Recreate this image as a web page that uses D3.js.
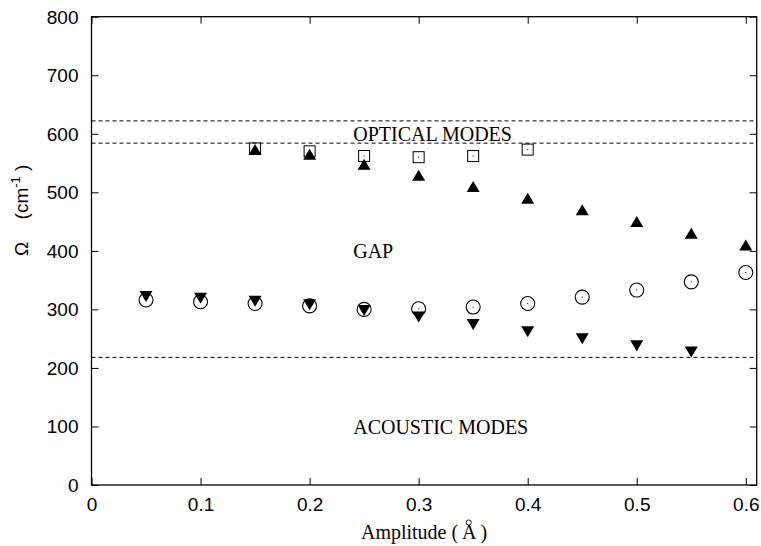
<!DOCTYPE html>
<html>
<head>
<meta charset="utf-8">
<script src="https://cdn.jsdelivr.net/npm/d3@7"></script>
<style>
  html, body { margin: 0; padding: 0; background: #fff; }
  svg { display: block; }
</style>
</head>
<body>
<svg id="chart" width="761" height="546"></svg>
<script>
// Phonon frequencies versus displacement amplitude
const amplitudes = [0.05, 0.1, 0.15, 0.2, 0.25, 0.3, 0.35, 0.4, 0.45, 0.5, 0.55, 0.6];

// upper branch (filled up-triangles), from 0.15 onward
const upperAmp = [0.15, 0.2, 0.25, 0.3, 0.35, 0.4, 0.45, 0.5, 0.55, 0.6];
const upperFreq = [573, 565, 548, 529, 510, 490, 470, 450, 430, 410];

// optical-like mode (open squares)
const squareAmp = [0.15, 0.2, 0.25, 0.3, 0.35, 0.4];
const squareFreq = [575, 570, 562, 560, 562, 573];

// open circles across full range
const circleFreq = [316, 313, 310, 306, 300, 301, 304, 310, 321, 333, 347, 363];

// lower branch (filled down-triangles)
const lowerAmp = [0.05, 0.1, 0.15, 0.2, 0.25, 0.3, 0.35, 0.4, 0.45, 0.5, 0.55];
const lowerFreq = [322, 319, 314, 308, 298, 287, 274, 262, 250, 238, 227];

// band edges (dashed lines)
const bandEdges = [622, 584, 218];

const xTicks = [0, 0.1, 0.2, 0.3, 0.4, 0.5, 0.6];
const yTicks = [0, 100, 200, 300, 400, 500, 600, 700, 800];

const regionLabels = [
  { text: "OPTICAL MODES", x: 0.24, y: 587 },
  { text: "GAP", x: 0.24, y: 388 },
  { text: "ACOUSTIC MODES", x: 0.24, y: 87 }
];

(function draw() {
  const svg = d3.select("#chart");
  const m = { left: 91.5, right: 756.7, top: 16.7, bottom: 485 };

  const x = d3.scaleLinear().domain([0, 0.61]).range([m.left, m.right]);
  const y = d3.scaleLinear().domain([0, 800]).range([m.bottom, m.top]);

  const sans = "'Liberation Sans', Arial, Helvetica, sans-serif";
  const serif = "'Liberation Serif', 'Times New Roman', serif";
  const tickLen = 7;

  // dashed band edges
  svg.append("g").selectAll("line").data(bandEdges).join("line")
    .attr("x1", m.left).attr("x2", m.right)
    .attr("y1", d => y(d)).attr("y2", d => y(d))
    .attr("stroke", "#000").attr("stroke-width", 1)
    .attr("stroke-dasharray", "4,3");

  // axes on all four sides with inward ticks
  function styleAxis(g) {
    g.select(".domain").remove();
    g.selectAll(".tick line").attr("stroke", "#000").attr("stroke-width", 1);
    g.selectAll(".tick text").attr("font-family", sans).attr("font-size", 19).attr("fill", "#000");
  }

  svg.append("g").attr("transform", `translate(0,${m.bottom})`)
    .call(d3.axisBottom(x).tickValues(xTicks).tickFormat(d3.format("~g"))
      .tickSizeInner(-tickLen).tickSizeOuter(0))
    .call(styleAxis)
    .call(g => g.selectAll(".tick text").attr("y", 13).attr("dy", "0.71em"));

  svg.append("g").attr("transform", `translate(0,${m.top})`)
    .call(d3.axisTop(x).tickValues(xTicks).tickFormat("")
      .tickSizeInner(-tickLen).tickSizeOuter(0))
    .call(styleAxis);

  svg.append("g").attr("transform", `translate(${m.left},0)`)
    .call(d3.axisLeft(y).tickValues(yTicks).tickFormat(d3.format("d"))
      .tickSizeInner(-tickLen).tickSizeOuter(0))
    .call(styleAxis)
    .call(g => g.selectAll(".tick text").attr("x", -13).attr("dy", "0.34em"));

  svg.append("g").attr("transform", `translate(${m.right},0)`)
    .call(d3.axisRight(y).tickValues(yTicks).tickFormat("")
      .tickSizeInner(-tickLen).tickSizeOuter(0))
    .call(styleAxis);

  // frame
  svg.append("rect")
    .attr("x", m.left).attr("y", m.top)
    .attr("width", m.right - m.left).attr("height", m.bottom - m.top)
    .attr("fill", "none").attr("stroke", "#000").attr("stroke-width", 1.3);

  // region labels
  svg.append("g").selectAll("text").data(regionLabels).join("text")
    .attr("x", d => x(d.x)).attr("y", d => y(d.y))
    .attr("font-family", serif).attr("font-size", 20).attr("fill", "#000")
    .text(d => d.text);

  const marks = svg.append("g");

  // open squares with centre dot
  const sq = 11;
  const squares = marks.append("g").selectAll("g")
    .data(squareAmp.map((a, i) => [a, squareFreq[i]])).join("g")
    .attr("transform", d => `translate(${x(d[0])},${y(d[1])})`);
  squares.append("rect").attr("x", -sq / 2).attr("y", -sq / 2).attr("width", sq).attr("height", sq)
    .attr("fill", "none").attr("stroke", "#000").attr("stroke-width", 1);
  squares.append("rect").attr("x", -0.5).attr("y", -0.5).attr("width", 1).attr("height", 1).attr("fill", "#000");

  // open circles with centre dot
  const circles = marks.append("g").selectAll("g")
    .data(amplitudes.map((a, i) => [a, circleFreq[i]])).join("g")
    .attr("transform", d => `translate(${x(d[0])},${y(d[1])})`);
  circles.append("circle").attr("r", 7)
    .attr("fill", "none").attr("stroke", "#000").attr("stroke-width", 1.1);
  circles.append("rect").attr("x", -0.5).attr("y", -0.5).attr("width", 1).attr("height", 1).attr("fill", "#000");

  // filled triangles
  const triW = 13, triH = 11;
  const upPath = `M0,${-triH / 2}L${triW / 2},${triH / 2}L${-triW / 2},${triH / 2}Z`;
  const downPath = `M0,${triH / 2}L${triW / 2},${-triH / 2}L${-triW / 2},${-triH / 2}Z`;

  marks.append("g").selectAll("path")
    .data(lowerAmp.map((a, i) => [a, lowerFreq[i]])).join("path")
    .attr("d", downPath).attr("fill", "#000")
    .attr("transform", d => `translate(${x(d[0])},${y(d[1])})`);

  marks.append("g").selectAll("path")
    .data(upperAmp.map((a, i) => [a, upperFreq[i]])).join("path")
    .attr("d", upPath).attr("fill", "#000")
    .attr("transform", d => `translate(${x(d[0])},${y(d[1])})`);

  // y axis title: Ω  (cm^-1)
  const yTitle = svg.append("g").attr("transform", "translate(28,0) rotate(-90)");
  yTitle.append("text")
    .attr("x", -249).attr("y", 0).attr("text-anchor", "middle")
    .attr("font-family", sans).attr("font-size", 19).attr("fill", "#000")
    .text("Ω");
  const unit = yTitle.append("text")
    .attr("x", -192).attr("y", 0).attr("text-anchor", "middle")
    .attr("font-family", sans).attr("font-size", 19).attr("fill", "#000");
  unit.append("tspan").text("(cm");
  unit.append("tspan").attr("font-size", 13).attr("dy", -8).text("-1");
  unit.append("tspan").attr("dy", 8).text(" )");

  // x axis title; the A carries a ring placed above it
  const xTitle = svg.append("text")
    .attr("x", 424).attr("y", 539).attr("text-anchor", "middle")
    .attr("font-family", serif).attr("font-size", 20).attr("fill", "#000");
  xTitle.append("tspan").text("Amplitude ( ");
  xTitle.append("tspan").text("A");
  xTitle.append("tspan").text(" )");
  const idx = "Amplitude ( ".length;
  const ext = xTitle.node().getExtentOfChar(idx);
  svg.append("circle")
    .attr("cx", ext.x + ext.width / 2).attr("cy", 522.5).attr("r", 2.6)
    .attr("fill", "none").attr("stroke", "#000").attr("stroke-width", 0.9);
})();
</script>
</body>
</html>
